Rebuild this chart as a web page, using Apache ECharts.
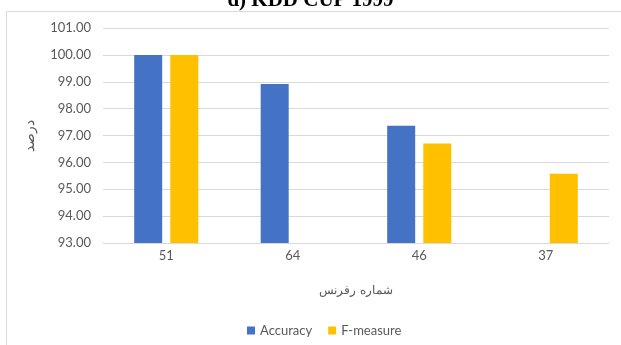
<!DOCTYPE html>
<html>
<head>
<meta charset="utf-8">
<script src="https://cdn.jsdelivr.net/npm/echarts@6/dist/echarts.min.js"></script>
<style>
  html, body { margin: 0; padding: 0; background: #fff; }
  #chart { width: 621px; height: 345px; }
</style>
</head>
<body>
<div id="chart"></div>
<script>
// data
var categories = ["51", "64", "46", "37"];
var accuracy = [100.0, 98.92, 97.36, "-"];
var fMeasure = [100.0, "-", 96.7, 95.58];
var seriesNames = ["Accuracy", "F-measure"];

var chart = echarts.init(document.getElementById("chart"));
var labelFont = "Lato, 'Open Sans', sans-serif";
chart.setOption({
  animation: false,
  color: ["#4472C4", "#FFC000"],
  title: {
    text: "d) KDD CUP 1999",
    left: "center",
    top: -15,
    textStyle: {
      fontFamily: "'Liberation Serif', serif",
      fontWeight: "bold",
      fontSize: 21,
      color: "#000"
    }
  },
  graphic: [{
    type: "rect",
    z: -1,
    shape: { x: 6.5, y: 11.5, width: 700, height: 400 },
    style: { fill: "none", stroke: "#d9d9d9", lineWidth: 1 }
  }],
  legend: {
    data: seriesNames,
    left: 242,
    top: 319,
    itemWidth: 8,
    itemHeight: 8,
    itemGap: 16,
    icon: "rect",
    textStyle: { color: "#595959", fontSize: 13, fontFamily: labelFont }
  },
  grid: { left: 103, right: 12, top: 28, bottom: 102 },
  xAxis: {
    type: "category",
    data: categories,
    name: "شماره رفرنس",
    nameLocation: "middle",
    nameGap: 42,
    nameTextStyle: { color: "#595959", fontSize: 12, fontFamily: "'DejaVu Serif', serif" },
    axisLine: { lineStyle: { color: "#d9d9d9" } },
    axisTick: { show: false },
    axisLabel: { color: "#595959", fontSize: 13, margin: 6, fontFamily: labelFont }
  },
  yAxis: {
    type: "value",
    min: 93,
    max: 101,
    interval: 1,
    name: "درصد",
    nameLocation: "middle",
    nameGap: 66,
    nameTextStyle: { color: "#595959", fontSize: 14, fontFamily: "'DejaVu Serif', serif" },
    axisLine: { show: false },
    axisTick: { show: false },
    splitLine: { lineStyle: { color: "#d9d9d9" } },
    axisLabel: {
      color: "#595959",
      fontSize: 13,
      margin: 12,
      fontFamily: labelFont,
      formatter: function (v) { return v.toFixed(2); }
    }
  },
  series: [
    { name: seriesNames[0], type: "bar", data: accuracy, barWidth: 28, barGap: "29%" },
    { name: seriesNames[1], type: "bar", data: fMeasure, barWidth: 28, barGap: "29%" }
  ]
});
</script>
</body>
</html>
